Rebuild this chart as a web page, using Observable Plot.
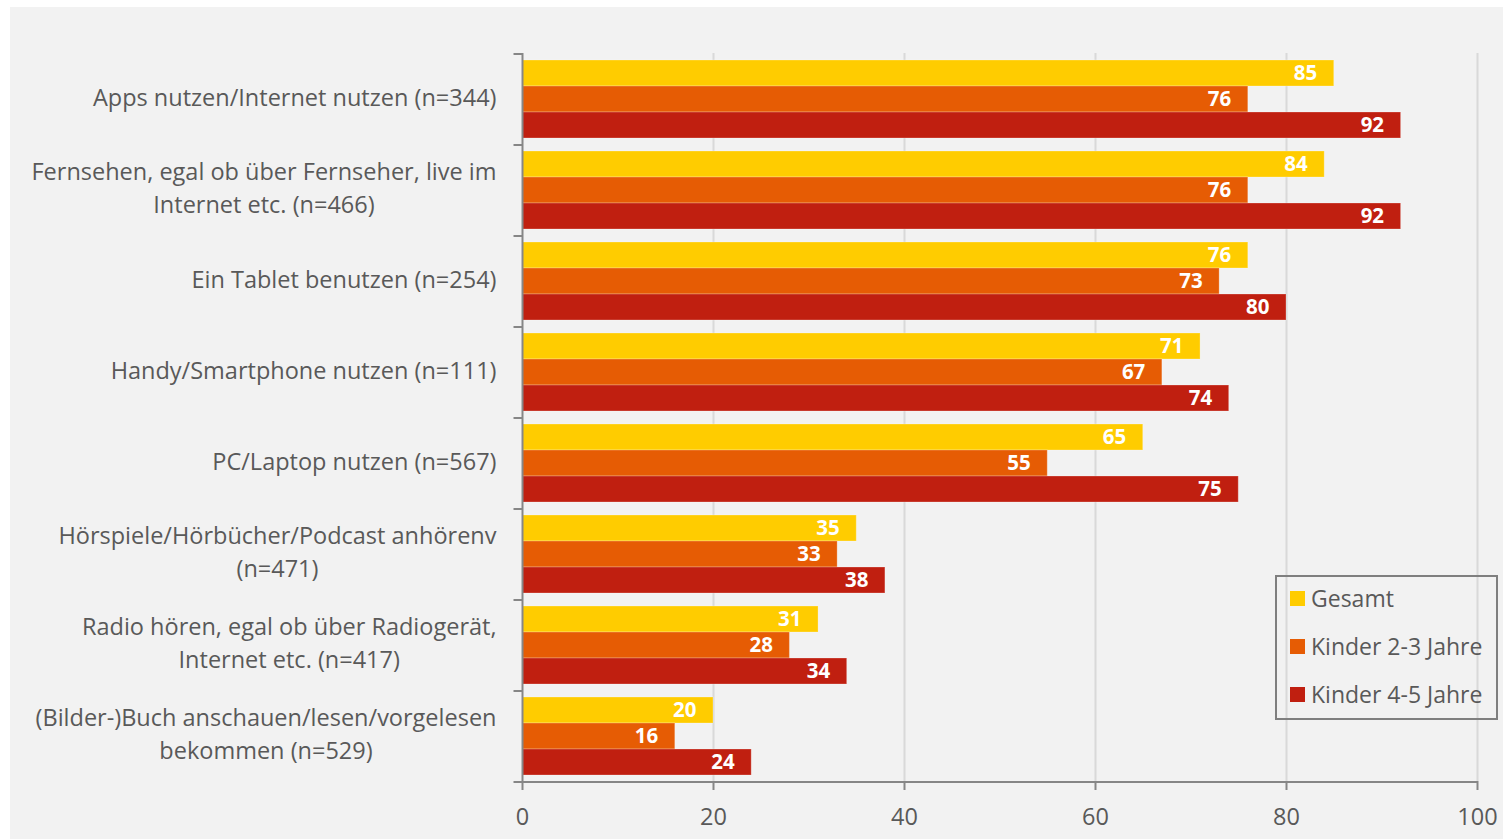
<!DOCTYPE html>
<html>
<head>
<meta charset="utf-8">
<script src="https://cdn.jsdelivr.net/npm/d3@7"></script>
<script src="https://cdn.jsdelivr.net/npm/@observablehq/plot@0.6"></script>
<style>
  html, body { margin: 0; padding: 0; background: #ffffff; }
  #panel { position: absolute; left: 10px; top: 7px; width: 1493px; height: 832px; background: #f2f2f2; }
  #legend { position: absolute; left: 1265px; top: 568px; width: 223px; height: 145px; border: 2px solid #7f7f7f; box-sizing: border-box; font-family: "Open Sans", sans-serif; font-size: 23px; color: #595959; }
  .item { position: absolute; left: 13px; height: 30px; display: flex; align-items: center; white-space: nowrap; }
  .sw { width: 15px; height: 15px; margin-right: 6px; }
</style>
</head>
<body>
<div id="panel"><div id="chart"></div><div id="legend"></div></div>
<script>
const categories = ["apps", "tv", "tablet", "handy", "pc", "hoer", "radio", "buch"];
const categoryLabels = [
  "Apps nutzen/Internet nutzen (n=344)",
  "Fernsehen, egal ob über Fernseher, live im\nInternet etc. (n=466)",
  "Ein Tablet benutzen (n=254)",
  "Handy/Smartphone nutzen (n=111)",
  "PC/Laptop nutzen (n=567)",
  "Hörspiele/Hörbücher/Podcast anhörenv\n(n=471)",
  "Radio hören, egal ob über Radiogerät,\nInternet etc. (n=417)",
  "(Bilder-)Buch anschauen/lesen/vorgelesen\nbekommen (n=529)"
];
const seriesNames = ["Gesamt", "Kinder 2-3 Jahre", "Kinder 4-5 Jahre"];
const gesamt   = [85, 84, 76, 71, 65, 35, 31, 20];
const kinder23 = [76, 76, 73, 67, 55, 33, 28, 16];
const kinder45 = [92, 92, 80, 74, 75, 38, 34, 24];
const xTicks = [0, 20, 40, 60, 80, 100];
const seriesColors = ["#ffcc00", "#e65c04", "#c01f10"];

const FONT = "'Open Sans', sans-serif";
const FS = 23.5;
const W = 1493, H = 832, ML = 512, MR = 26, MT = 45, MB = 58;
const PAD_OUT = 0.25;

const seriesValues = [gesamt, kinder23, kinder45];
const data = categories.flatMap((c, i) => seriesNames.map((s, j) => ({category: c, series: s, value: seriesValues[j][i]})));

const facetH = (H - MT - MB) / categories.length;
const step = facetH / (seriesNames.length + 2 * PAD_OUT);
const edgeOff = step * (0.5 + PAD_OUT);
const pxPerUnit = (W - ML - MR) / 100;
const tickLen = 8.5 / pxPerUnit;

const canvas = document.createElement("canvas");
const ctx = canvas.getContext("2d");
ctx.font = `${FS}px ${FONT}`;
const labelMarks = categories.map((c, i) => {
  const lines = categoryLabels[i].split("\n");
  const w = Math.max(...lines.map(l => ctx.measureText(l).width));
  return Plot.text([c], {fy: d => d, text: () => categoryLabels[i], frameAnchor: "left", textAnchor: "middle",
    dx: -(26 + w / 2), dy: -4, fontSize: FS, lineHeight: 1.4, fill: "#595959"});
});

const axisColor = "#868686";
const chart = Plot.plot({
  width: W, height: H, marginLeft: ML, marginRight: MR, marginTop: MT, marginBottom: MB,
  style: {background: "transparent", fontFamily: FONT, color: "#595959", overflow: "visible"},
  x: {domain: [0, 100], label: null},
  y: {domain: seriesNames, paddingInner: 0, paddingOuter: PAD_OUT, axis: null},
  fy: {domain: categories, padding: 0, axis: null},
  color: {domain: seriesNames, range: seriesColors},
  marks: [
    Plot.ruleX(xTicks.slice(1), {stroke: "#d9d9d9", strokeWidth: 2}),
    Plot.barX(data, {x: "value", y: "series", fy: "category", fill: "series", stroke: "#ffffff", strokeOpacity: 0.25, strokeWidth: 1}),
    Plot.ruleX([0], {stroke: axisColor, strokeWidth: 2}),
    Plot.ruleY(categories, {fy: d => d, y: () => seriesNames[0], x1: -tickLen, x2: 0, dy: -edgeOff, stroke: axisColor, strokeWidth: 2}),
    Plot.ruleY([categories[categories.length - 1]], {fy: d => d, y: () => seriesNames[2], x1: -tickLen, x2: 100, dy: edgeOff, stroke: axisColor, strokeWidth: 2}),
    Plot.axisX(xTicks, {tickSize: 9, tickPadding: 18, stroke: axisColor, strokeWidth: 2, fill: "#595959", fontSize: FS, label: null}),
    Plot.text(data, {x: "value", y: "series", fy: "category", text: d => String(d.value), textAnchor: "end", dx: -17,
      fill: "#ffffff", fontWeight: "bold", fontSize: 20.5}),
    ...labelMarks
  ]
});
document.getElementById("chart").appendChild(chart);

const legend = document.getElementById("legend");
seriesNames.forEach((s, j) => {
  const item = document.createElement("div");
  item.className = "item";
  item.style.top = (6 + j * 48) + "px";
  item.innerHTML = `<div class="sw" style="background:${seriesColors[j]}"></div><span>${s}</span>`;
  legend.appendChild(item);
});
</script>
</body>
</html>
